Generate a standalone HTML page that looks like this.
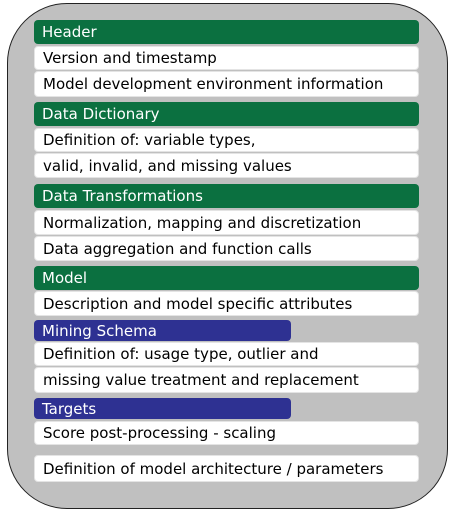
<!DOCTYPE html>
<html><head><style>
body{margin:0;width:453px;height:513px;background:#fff;position:relative;overflow:hidden;font-family:"DejaVu Sans","Liberation Sans",sans-serif;}
.outer{position:absolute;left:7px;top:3px;width:439px;height:504px;background:#c0c0c0;border:1.5px solid #222;border-radius:60px;}
.b{position:absolute;left:34px;width:385px;box-sizing:border-box;border-radius:4px;font-size:15px;padding-left:8px;display:flex;align-items:center;color:#000;background:#fff;border:1px solid #e4e4e4;white-space:nowrap;}
.g{background:#0b7040;color:#fff;border:none;}
.bl{background:#2e3192;color:#fff;border:none;width:257px;}
</style></head><body>
<div class="outer"></div>
<div class="b g" style="top:20px;height:24px">Header</div>
<div class="b" style="top:46px;height:24px">Version and timestamp</div>
<div class="b" style="top:71px;height:26px">Model development environment information</div>
<div class="b g" style="top:102px;height:24px">Data Dictionary</div>
<div class="b" style="top:128px;height:24px">Definition of: variable types,</div>
<div class="b" style="top:153px;height:25px">valid, invalid, and missing values</div>
<div class="b g" style="top:184px;height:24px">Data Transformations</div>
<div class="b" style="top:210px;height:25px">Normalization, mapping and discretization</div>
<div class="b" style="top:236px;height:25px">Data aggregation and function calls</div>
<div class="b g" style="top:266px;height:24px">Model</div>
<div class="b" style="top:291px;height:25px">Description and model specific attributes</div>
<div class="b bl" style="top:320px;height:21px">Mining Schema</div>
<div class="b" style="top:342px;height:24px">Definition of: usage type, outlier and</div>
<div class="b" style="top:367px;height:26px">missing value treatment and replacement</div>
<div class="b bl" style="top:398px;height:21px">Targets</div>
<div class="b" style="top:421px;height:24px">Score post-processing - scaling</div>
<div class="b" style="top:455px;height:27px">Definition of model architecture / parameters</div>
</body></html>
